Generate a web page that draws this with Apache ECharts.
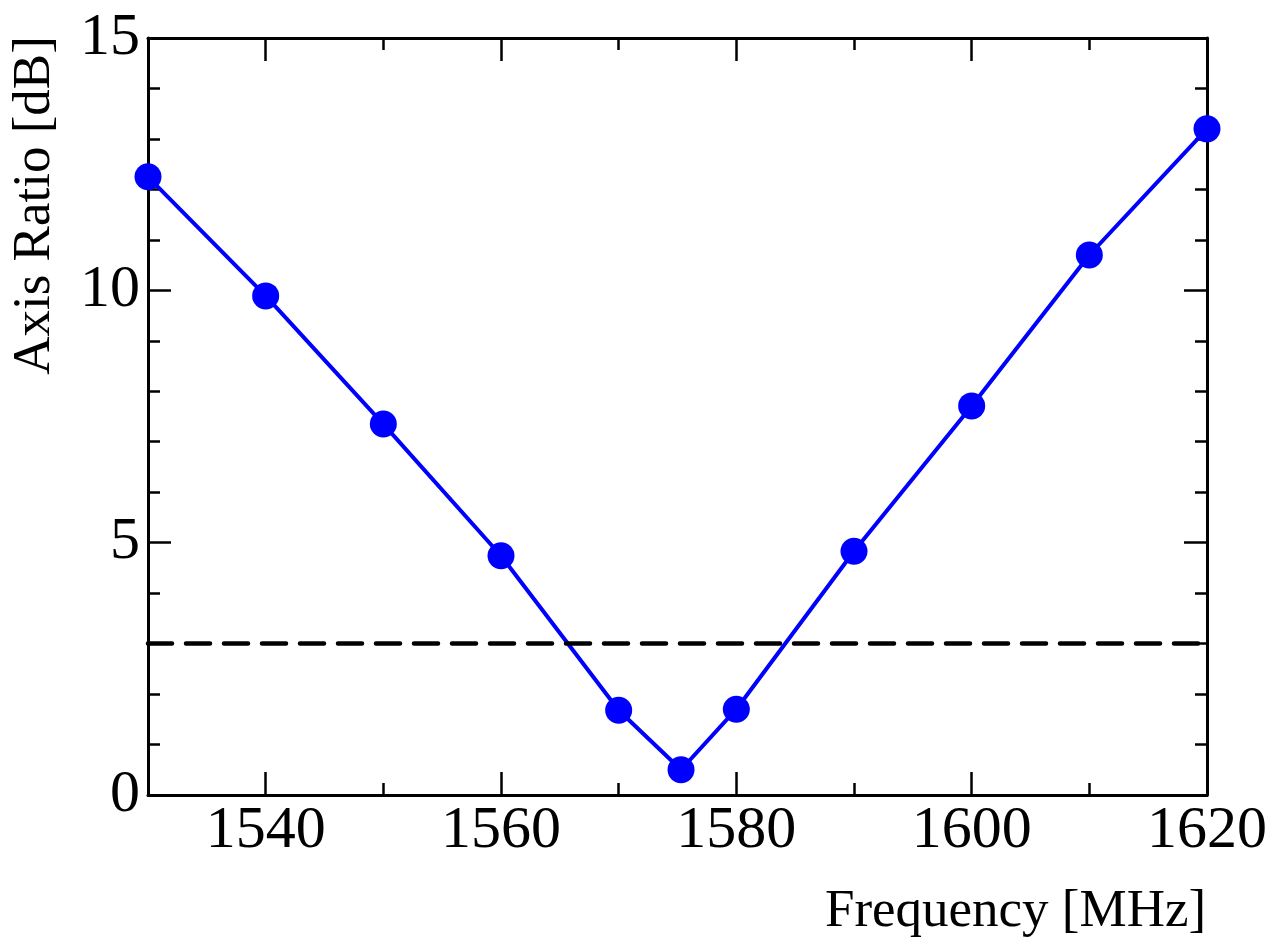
<!DOCTYPE html>
<html><head><meta charset="utf-8">
<script src="https://cdn.jsdelivr.net/npm/echarts@6/dist/echarts.min.js"></script>
<style>html,body{margin:0;padding:0;background:#fff}#c{width:1286px;height:947px}</style>
</head><body><div id="c"></div>
<script>
const frequency = [1530, 1540, 1550, 1560, 1570, 1575.3, 1580, 1590, 1600, 1610, 1620];
const axisRatio = [12.25, 9.89, 7.35, 4.74, 1.68, 0.50, 1.70, 4.83, 7.71, 10.70, 13.20];
const threshold = 3;
const xMajorTicks = [1540, 1560, 1580, 1600, 1620];
const xTitle = 'Frequency [MHz]';
const yTitle = 'Axis Ratio [dB]';

const FONT = 'Liberation Serif';
const chart = echarts.init(document.getElementById('c'), null, {renderer: 'canvas'});
const lineStyle = {color: '#000', width: 3};
const tickLS = {color: '#000', width: 2.5};
const majorTick = {show: true, inside: true, length: 23, lineStyle: tickLS, customValues: xMajorTicks};
const shortTick = {show: true, inside: true, length: 12, lineStyle: tickLS};
const yTick = {show: true, inside: true, length: 23, lineStyle: tickLS};
const minorY = {show: true, splitNumber: 5, length: 12, lineStyle: tickLS};
const gridRect = {left: 148, right: 79, top: 38, bottom: 152, containLabel: false, outerBoundsMode: 'none'};
chart.setOption({
  animation: false,
  backgroundColor: '#fff',
  grid: [Object.assign({}, gridRect), Object.assign({}, gridRect)],
  xAxis: [{
    gridIndex: 0, type: 'value', min: 1530, max: 1620, interval: 10, position: 'bottom',
    axisLine: {show: true, onZero: false, lineStyle},
    axisTick: majorTick, splitLine: {show: false},
    axisLabel: {color: '#000', fontFamily: FONT, fontSize: 60, margin: 6,
      customValues: xMajorTicks, formatter: v => String(v)},
    name: xTitle, nameLocation: 'middle', nameGap: 91, nameMoveOverlap: false,
    nameTextStyle: {color: '#000', fontFamily: FONT, fontSize: 53, padding: [0, 0, 0, 676]}
  }, {
    gridIndex: 0, type: 'value', min: 1530, max: 1620, interval: 10, position: 'top',
    axisLine: {show: true, onZero: false, lineStyle},
    axisTick: majorTick, splitLine: {show: false}, axisLabel: {show: false}
  }, {
    gridIndex: 1, type: 'value', min: 1530, max: 1620, interval: 10, position: 'bottom',
    axisLine: {show: false, onZero: false}, axisTick: shortTick, splitLine: {show: false}, axisLabel: {show: false}
  }, {
    gridIndex: 1, type: 'value', min: 1530, max: 1620, interval: 10, position: 'top',
    axisLine: {show: false, onZero: false}, axisTick: shortTick, splitLine: {show: false}, axisLabel: {show: false}
  }],
  yAxis: [{
    gridIndex: 0, type: 'value', min: 0, max: 15, interval: 5, position: 'left',
    axisLine: {show: true, onZero: false, lineStyle},
    axisTick: yTick, minorTick: minorY, splitLine: {show: false},
    axisLabel: {color: '#000', fontFamily: FONT, fontSize: 60, margin: 8},
    name: yTitle, nameLocation: 'middle', nameGap: 86, nameRotate: 90, nameMoveOverlap: false,
    nameTextStyle: {color: '#000', fontFamily: FONT, fontSize: 53, padding: [0, 0, 0, 422]}
  }, {
    gridIndex: 0, type: 'value', min: 0, max: 15, interval: 5, position: 'right',
    axisLine: {show: true, onZero: false, lineStyle},
    axisTick: yTick, minorTick: minorY, splitLine: {show: false}, axisLabel: {show: false}
  }, {
    gridIndex: 1, type: 'value', min: 0, max: 15, show: false
  }],
  series: [{
    type: 'line', xAxisIndex: 0, yAxisIndex: 0,
    data: frequency.map((f, i) => [f, axisRatio[i]]),
    symbol: 'circle', symbolSize: 27,
    lineStyle: {color: '#0000ff', width: 4},
    itemStyle: {color: '#0000ff'},
    clip: false, z: 3,
    markLine: {
      silent: true, symbol: 'none', label: {show: false},
      lineStyle: {color: '#000', width: 4.5, type: [24, 14], cap: 'round'},
      data: [{yAxis: threshold}]
    }
  }]
});
</script></body></html>
